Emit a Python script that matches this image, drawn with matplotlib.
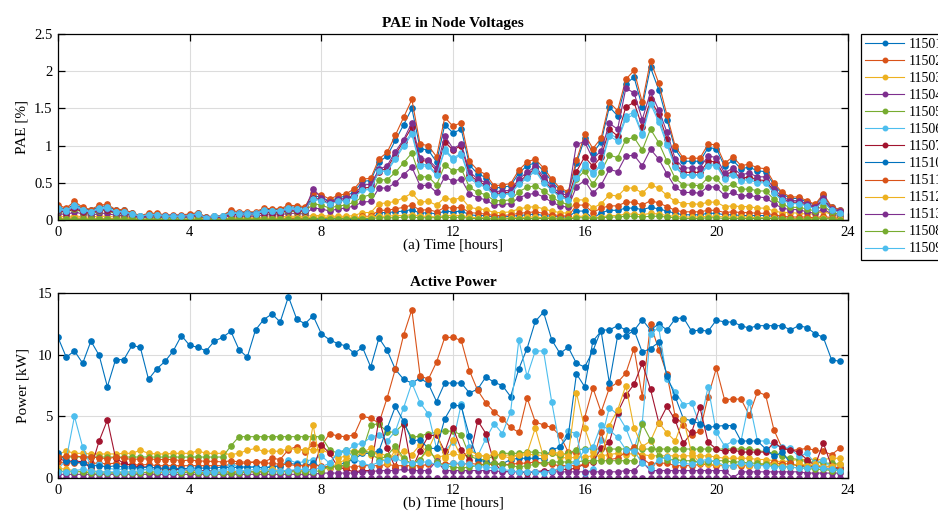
#!/usr/bin/env python3
"""
PAE in node voltages (top) and active power per node (bottom), 15-min steps.
MATLAB-like look: serif font, inward ticks on all sides, light grid.
"""

import matplotlib as mpl
mpl.use("Agg")
import matplotlib.pyplot as plt
import numpy as np

mpl.rcParams.update({
    "font.family": ["Liberation Serif", "DejaVu Serif"],
    "font.size": 10.5, "axes.titlesize": 11, "axes.labelsize": 11,
    "xtick.labelsize": 10.5, "ytick.labelsize": 10.5, "legend.fontsize": 10,
    "axes.linewidth": 0.9,
})

# MATLAB default line colours
MATLAB = ['#0072BD', '#D95319', '#EDB120', '#7E2F8E',
          '#77AC30', '#4DBEEE', '#A2142F']

NODES = ['11501', '11502', '11503', '11504', '11505', '11506', '11507',
         '11510', '11511', '11512', '11513', '11508', '11509']

# time axis: 96 quarter-hour samples
hours = np.arange(96) * 0.25

# ---- PAE [%] per node ----
pae_11501 = [0.18,0.14,0.22,0.15,0.13,0.18,0.19,0.13,
             0.13,0.09,0.05,0.08,0.08,0.06,0.06,0.06,
             0.07,0.09,0.04,0.05,0.05,0.12,0.10,0.10,
             0.10,0.14,0.14,0.14,0.18,0.17,0.16,0.32,
             0.31,0.25,0.30,0.32,0.38,0.52,0.53,0.78,
             0.86,1.07,1.28,1.50,0.96,0.94,0.78,1.28,
             1.17,1.22,0.74,0.62,0.57,0.43,0.44,0.46,
             0.63,0.73,0.77,0.66,0.52,0.40,0.36,0.76,
             1.10,0.90,1.05,1.52,1.40,1.83,1.92,1.52,
             2.05,1.75,1.35,0.95,0.79,0.79,0.79,0.97,
             0.96,0.72,0.80,0.69,0.71,0.66,0.65,0.47,
             0.35,0.29,0.29,0.24,0.20,0.33,0.17,0.13]
pae_11502 = [0.20,0.16,0.25,0.17,0.14,0.20,0.21,0.14,
             0.14,0.10,0.06,0.09,0.09,0.07,0.07,0.07,
             0.08,0.10,0.04,0.06,0.06,0.13,0.11,0.11,
             0.11,0.16,0.15,0.15,0.20,0.19,0.18,0.36,
             0.34,0.28,0.33,0.35,0.42,0.55,0.56,0.82,
             0.91,1.14,1.38,1.62,1.02,1.00,0.85,1.38,
             1.26,1.31,0.79,0.67,0.61,0.46,0.47,0.49,
             0.67,0.78,0.82,0.70,0.55,0.43,0.38,0.80,
             1.15,0.96,1.10,1.58,1.47,1.89,2.01,1.58,
             2.14,1.84,1.41,0.99,0.83,0.83,0.83,1.02,
             1.01,0.76,0.85,0.73,0.75,0.70,0.69,0.50,
             0.37,0.31,0.31,0.26,0.21,0.35,0.18,0.14]
pae_11503 = [0.05,0.04,0.06,0.04,0.04,0.05,0.05,0.04,
             0.04,0.03,0.03,0.03,0.03,0.03,0.03,0.03,
             0.03,0.03,0.02,0.02,0.02,0.03,0.03,0.03,
             0.03,0.04,0.04,0.04,0.05,0.05,0.05,0.06,
             0.06,0.05,0.05,0.05,0.06,0.10,0.10,0.22,
             0.23,0.25,0.30,0.36,0.24,0.25,0.20,0.30,
             0.27,0.30,0.17,0.15,0.14,0.10,0.10,0.11,
             0.15,0.17,0.18,0.15,0.12,0.10,0.09,0.27,
             0.27,0.16,0.22,0.34,0.32,0.43,0.43,0.36,
             0.47,0.43,0.33,0.25,0.22,0.22,0.21,0.24,
             0.24,0.18,0.19,0.18,0.18,0.16,0.16,0.12,
             0.10,0.10,0.09,0.08,0.08,0.12,0.07,0.02]
pae_11504 = [0.09,0.07,0.11,0.08,0.06,0.09,0.09,0.06,
             0.06,0.05,0.03,0.04,0.04,0.03,0.03,0.03,
             0.04,0.05,0.02,0.03,0.03,0.06,0.05,0.05,
             0.05,0.07,0.07,0.07,0.09,0.09,0.08,0.16,
             0.15,0.12,0.15,0.16,0.19,0.24,0.25,0.43,
             0.43,0.50,0.61,0.71,0.46,0.47,0.37,0.58,
             0.52,0.55,0.35,0.30,0.27,0.20,0.21,0.22,
             0.30,0.34,0.36,0.31,0.24,0.19,0.17,0.45,
             0.53,0.36,0.47,0.68,0.65,0.86,0.87,0.73,
             0.95,0.82,0.62,0.44,0.37,0.37,0.36,0.45,
             0.44,0.33,0.37,0.32,0.33,0.31,0.30,0.22,
             0.16,0.14,0.14,0.11,0.09,0.15,0.08,0.06]
pae_11505 = [0.12,0.10,0.15,0.10,0.08,0.12,0.13,0.08,
             0.08,0.06,0.04,0.05,0.05,0.04,0.04,0.04,
             0.05,0.06,0.02,0.04,0.04,0.08,0.07,0.07,
             0.07,0.10,0.09,0.09,0.12,0.11,0.11,0.22,
             0.20,0.16,0.19,0.20,0.24,0.31,0.34,0.54,
             0.54,0.64,0.77,0.90,0.58,0.58,0.47,0.74,
             0.66,0.69,0.44,0.37,0.34,0.26,0.26,0.27,
             0.38,0.44,0.46,0.39,0.31,0.24,0.21,0.55,
             0.66,0.48,0.65,0.87,0.84,1.08,1.11,0.94,
             1.22,1.04,0.79,0.56,0.47,0.47,0.46,0.57,
             0.56,0.43,0.48,0.41,0.42,0.39,0.39,0.28,
             0.21,0.17,0.17,0.15,0.12,0.20,0.10,0.08]
pae_11506 = [0.16,0.13,0.20,0.14,0.11,0.16,0.17,0.11,
             0.11,0.08,0.05,0.07,0.07,0.06,0.06,0.06,
             0.06,0.08,0.03,0.05,0.05,0.10,0.09,0.09,
             0.09,0.13,0.12,0.12,0.16,0.15,0.14,0.29,
             0.27,0.22,0.26,0.27,0.32,0.41,0.42,0.68,
             0.67,0.84,1.02,1.18,0.75,0.74,0.62,0.95,
             0.83,0.90,0.58,0.50,0.45,0.34,0.35,0.36,
             0.50,0.58,0.68,0.52,0.41,0.32,0.28,0.58,
             0.75,0.64,0.75,1.17,1.09,1.40,1.45,1.17,
             1.60,1.36,1.04,0.73,0.61,0.61,0.61,0.75,
             0.75,0.56,0.63,0.54,0.56,0.52,0.51,0.37,
             0.27,0.23,0.23,0.19,0.16,0.26,0.13,0.10]
pae_11507 = [0.13,0.10,0.16,0.11,0.09,0.13,0.14,0.09,
             0.09,0.07,0.04,0.06,0.06,0.05,0.05,0.05,
             0.05,0.07,0.03,0.04,0.04,0.08,0.07,0.07,
             0.07,0.10,0.10,0.10,0.13,0.12,0.12,0.30,
             0.27,0.22,0.26,0.27,0.33,0.43,0.44,0.65,
             0.70,0.88,1.06,1.25,0.80,0.79,0.66,1.05,
             0.94,1.00,0.61,0.52,0.47,0.36,0.36,0.38,
             0.52,0.60,0.70,0.54,0.42,0.33,0.30,0.65,
             0.85,0.72,0.85,1.22,1.13,1.52,1.58,1.25,
             1.62,1.42,1.09,0.76,0.64,0.64,0.64,0.79,
             0.78,0.59,0.66,0.56,0.58,0.54,0.53,0.39,
             0.28,0.24,0.24,0.20,0.16,0.27,0.14,0.11]
pae_11510 = [0.01,0.01,0.01,0.01,0.01,0.01,0.01,0.01,
             0.01,0.01,0.00,0.01,0.01,0.00,0.00,0.00,
             0.00,0.01,0.00,0.00,0.00,0.01,0.01,0.01,
             0.01,0.01,0.01,0.01,0.01,0.01,0.01,0.01,
             0.01,0.00,0.00,0.00,0.01,0.01,0.01,0.10,
             0.10,0.11,0.12,0.14,0.09,0.10,0.08,0.12,
             0.11,0.12,0.07,0.06,0.06,0.04,0.04,0.05,
             0.06,0.07,0.08,0.06,0.05,0.04,0.04,0.12,
             0.12,0.02,0.10,0.13,0.13,0.16,0.16,0.14,
             0.17,0.15,0.12,0.09,0.07,0.07,0.07,0.09,
             0.09,0.07,0.07,0.06,0.06,0.06,0.06,0.05,
             0.03,0.02,0.02,0.02,0.02,0.03,0.02,0.01]
pae_11511 = [0.02,0.02,0.03,0.02,0.02,0.02,0.02,0.02,
             0.02,0.01,0.01,0.01,0.01,0.01,0.01,0.01,
             0.01,0.01,0.01,0.01,0.01,0.02,0.02,0.02,
             0.02,0.02,0.02,0.02,0.02,0.02,0.02,0.02,
             0.02,0.02,0.02,0.02,0.02,0.05,0.05,0.13,
             0.13,0.15,0.17,0.20,0.13,0.14,0.11,0.17,
             0.16,0.17,0.10,0.09,0.08,0.06,0.06,0.07,
             0.09,0.10,0.11,0.09,0.07,0.06,0.05,0.20,
             0.20,0.10,0.16,0.19,0.19,0.24,0.24,0.20,
             0.26,0.23,0.18,0.13,0.11,0.11,0.11,0.13,
             0.13,0.10,0.11,0.10,0.10,0.09,0.09,0.07,
             0.05,0.04,0.04,0.04,0.03,0.05,0.03,0.02]
pae_11512 = [0.02,0.02,0.03,0.02,0.02,0.02,0.02,0.02,
             0.02,0.02,0.01,0.01,0.01,0.01,0.01,0.01,
             0.01,0.01,0.01,0.01,0.01,0.02,0.02,0.02,
             0.02,0.02,0.02,0.02,0.03,0.03,0.03,0.04,
             0.04,0.03,0.03,0.03,0.03,0.04,0.04,0.05,
             0.05,0.06,0.06,0.07,0.05,0.05,0.04,0.06,
             0.06,0.06,0.04,0.03,0.03,0.02,0.02,0.03,
             0.03,0.04,0.04,0.03,0.03,0.02,0.02,0.05,
             0.05,0.03,0.04,0.06,0.06,0.08,0.08,0.07,
             0.09,0.08,0.06,0.05,0.04,0.04,0.04,0.05,
             0.05,0.04,0.04,0.04,0.04,0.03,0.03,0.03,
             0.02,0.02,0.02,0.02,0.02,0.03,0.02,0.01]
pae_11513 = [0.14,0.11,0.18,0.12,0.10,0.14,0.15,0.10,
             0.10,0.07,0.04,0.06,0.06,0.05,0.05,0.05,
             0.06,0.07,0.03,0.04,0.04,0.09,0.08,0.08,
             0.08,0.11,0.11,0.11,0.14,0.13,0.13,0.42,
             0.30,0.24,0.28,0.29,0.34,0.47,0.48,0.68,
             0.73,0.92,1.08,1.31,0.83,0.81,0.70,1.13,
             0.96,1.02,0.65,0.55,0.50,0.38,0.39,0.40,
             0.55,0.64,0.72,0.58,0.45,0.36,0.33,1.02,
             1.05,0.82,0.93,1.30,1.22,1.77,1.71,1.35,
             1.72,1.48,1.18,0.82,0.70,0.70,0.70,0.86,
             0.84,0.63,0.70,0.61,0.63,0.58,0.58,0.42,
             0.31,0.26,0.26,0.22,0.18,0.29,0.15,0.12]
pae_11508 = [0.01,0.01,0.01,0.01,0.01,0.01,0.01,0.01,
             0.01,0.01,0.01,0.01,0.01,0.01,0.01,0.01,
             0.01,0.01,0.00,0.01,0.01,0.01,0.01,0.01,
             0.01,0.01,0.01,0.01,0.01,0.01,0.01,0.02,
             0.02,0.02,0.02,0.02,0.02,0.02,0.02,0.03,
             0.03,0.03,0.04,0.04,0.03,0.03,0.03,0.04,
             0.03,0.04,0.02,0.02,0.02,0.01,0.01,0.02,
             0.02,0.02,0.02,0.02,0.02,0.01,0.01,0.03,
             0.03,0.02,0.03,0.04,0.04,0.05,0.05,0.04,
             0.05,0.05,0.04,0.03,0.02,0.02,0.02,0.03,
             0.03,0.02,0.02,0.02,0.02,0.02,0.02,0.02,
             0.01,0.01,0.01,0.01,0.01,0.02,0.01,0.00]
pae_11509 = [0.15,0.12,0.19,0.13,0.11,0.15,0.16,0.11,
             0.11,0.08,0.05,0.07,0.07,0.05,0.05,0.05,
             0.06,0.08,0.03,0.05,0.05,0.10,0.08,0.08,
             0.08,0.12,0.12,0.12,0.15,0.15,0.14,0.28,
             0.26,0.21,0.25,0.26,0.31,0.40,0.41,0.66,
             0.65,0.82,0.99,1.15,0.73,0.72,0.60,0.93,
             0.81,0.88,0.56,0.48,0.44,0.33,0.34,0.35,
             0.48,0.56,0.66,0.50,0.40,0.31,0.27,0.56,
             0.73,0.62,0.73,1.13,1.06,1.36,1.42,1.14,
             1.56,1.32,1.01,0.71,0.60,0.60,0.60,0.73,
             0.73,0.55,0.61,0.53,0.54,0.50,0.50,0.36,
             0.27,0.22,0.22,0.19,0.15,0.25,0.13,0.10]

# ---- active power [kW] per node ----
pw_11501 = [11.4,9.8,10.3,9.3,11.1,9.95,7.4,9.6,
            9.6,10.75,10.6,8.0,8.85,9.45,10.3,11.55,
            10.75,10.6,10.3,11.1,11.4,11.9,10.4,9.8,
            12.0,12.85,13.3,12.65,14.7,12.9,12.5,13.15,
            11.7,11.2,10.9,10.7,10.1,10.6,9.0,11.35,
            10.35,8.8,8.0,7.7,8.1,7.65,6.2,7.7,
            7.7,7.7,6.9,7.2,8.2,7.75,7.5,6.6,
            8.85,10.5,12.7,13.45,11.2,10.1,10.6,9.3,
            9.0,10.3,12.0,12.0,12.35,12.0,11.95,12.84,
            12.0,12.5,12.0,12.9,13.0,11.9,12.0,11.9,
            12.8,12.65,12.65,12.35,12.15,12.35,12.35,12.35,
            12.35,12.0,12.35,12.2,11.7,11.4,9.6,9.45]
pw_11502 = [1.3,1.25,1.2,1.25,1.2,1.2,1.15,1.2,
            1.1,1.1,1.05,1.1,1.0,1.0,1.0,1.0,
            1.0,1.0,1.0,1.0,1.0,1.1,1.2,1.2,
            1.3,1.3,1.6,1.5,2.3,2.55,2.1,2.75,
            2.6,3.6,3.4,3.35,3.5,5.0,4.85,4.45,
            6.5,8.85,11.6,13.65,8.3,8.0,9.4,11.4,
            11.4,11.15,8.7,7.1,6.1,5.35,4.8,4.1,
            3.7,6.5,4.55,4.3,4.1,3.45,2.1,2.0,
            4.9,7.3,5.35,7.3,7.75,8.5,10.5,6.6,
            12.5,10.4,8.4,5.0,4.3,3.5,3.8,6.6,
            8.9,6.35,6.4,6.4,5.1,7.0,6.7,3.9,
            2.4,2.25,2.3,2.4,2.25,2.15,1.9,2.4]
pw_11503 = [1.9,2.2,2.0,2.0,1.95,1.95,1.95,1.95,
            2.0,2.0,2.25,2.0,1.95,1.95,2.0,2.0,
            2.0,2.2,2.0,2.0,2.0,1.9,2.0,2.25,
            2.4,2.15,2.2,2.15,2.4,2.3,2.3,2.3,
            2.3,2.0,1.6,1.8,2.2,2.2,1.9,2.0,
            1.8,1.7,2.2,1.9,2.7,2.0,1.7,1.8,
            2.0,1.8,1.8,1.8,1.8,1.8,1.8,1.9,
            1.8,1.9,1.9,1.8,2.0,1.7,1.6,1.7,
            1.7,1.8,1.8,1.9,2.0,1.9,2.0,1.9,
            1.8,1.8,1.8,1.8,1.8,1.8,1.8,1.8,
            1.7,1.6,1.6,1.6,1.6,1.5,1.5,1.4,
            1.3,1.4,1.5,1.5,1.5,1.5,1.6,1.6]
pw_11504 = [0.0,0.0,0.0,0.0,0.0,0.0,0.0,0.0,
            0.0,0.0,0.0,0.0,0.0,0.0,0.0,0.0,
            0.0,0.0,0.0,0.0,0.0,0.0,0.0,0.0,
            0.0,0.0,0.0,0.0,0.0,0.0,0.0,0.0,
            0.0,0.0,0.0,0.0,0.0,0.0,0.0,0.0,
            0.0,0.0,0.0,0.0,0.0,0.0,0.0,0.0,
            0.0,0.0,0.0,0.0,0.0,0.0,0.0,0.0,
            0.0,0.0,0.0,0.0,0.0,0.0,0.0,0.0,
            0.0,0.0,0.0,0.0,0.0,0.0,0.0,0.0,
            0.0,0.0,0.0,0.0,0.0,0.0,0.0,0.0,
            0.0,0.0,0.0,0.0,0.0,0.0,0.0,0.0,
            0.0,0.0,0.0,0.0,0.0,0.0,0.0,0.0]
pw_11505 = [1.7,1.7,1.7,1.7,1.7,1.7,1.7,1.7,
            1.7,1.7,1.7,1.7,1.7,1.7,1.7,1.7,
            1.7,1.7,1.7,1.7,1.7,2.6,3.35,3.35,
            3.35,3.35,3.35,3.35,3.35,3.35,3.35,3.35,
            3.35,2.3,2.0,2.3,2.1,2.2,4.3,4.4,
            3.7,3.75,4.4,3.3,3.4,3.6,3.7,3.8,
            3.8,3.5,1.8,1.5,1.5,1.8,2.0,2.0,
            2.0,2.1,2.1,2.0,2.0,1.9,2.0,2.3,
            2.35,2.35,2.35,2.35,2.35,2.35,2.35,2.35,
            2.35,2.35,2.35,2.35,2.35,2.35,2.35,2.35,
            2.35,2.35,2.35,2.35,2.35,2.2,2.15,2.0,
            1.8,1.6,1.5,1.3,1.3,1.2,1.2,1.1]
pw_11506 = [0.7,1.5,5.0,2.5,0.95,1.1,0.8,0.7,
            0.7,0.8,0.7,0.7,0.7,0.6,0.6,0.7,
            0.8,0.6,0.6,0.6,0.7,1.1,0.9,0.8,
            0.9,0.8,1.0,0.9,1.5,1.2,1.35,1.5,
            1.8,1.2,2.0,2.1,2.7,2.8,3.3,3.5,
            3.0,3.8,5.7,7.7,6.1,5.2,2.4,2.2,
            2.9,6.0,2.5,1.8,3.2,4.4,3.6,5.35,
            11.2,8.25,10.3,10.3,6.15,2.5,3.8,3.6,
            0.4,0.7,3.05,5.7,5.15,4.05,2.35,4.5,
            11.7,12.2,8.0,7.0,5.95,6.1,4.3,7.4,
            3.7,2.6,3.0,3.0,6.2,3.0,3.0,2.65,
            2.5,2.4,1.75,2.0,1.2,1.5,0.8,0.6]
pw_11507 = [1.6,1.35,1.4,1.3,0.8,3.0,4.7,1.6,
            1.2,1.0,0.9,0.9,0.8,0.7,0.7,0.7,
            0.6,0.6,0.6,0.5,0.5,0.5,0.5,0.5,
            0.5,0.5,0.6,0.6,0.6,0.6,0.6,0.7,
            2.7,2.0,0.9,0.7,0.5,0.6,0.6,4.8,
            2.4,0.8,4.4,0.7,2.2,3.4,3.5,2.15,
            4.05,2.3,1.5,4.65,3.6,1.2,0.55,0.55,
            0.5,0.4,0.5,0.6,0.6,0.7,0.7,0.8,
            1.15,1.3,2.4,2.9,5.3,6.7,7.6,9.3,
            7.2,4.5,5.8,4.7,2.8,3.7,5.75,2.9,
            2.35,2.15,2.3,2.1,2.1,2.1,2.1,2.9,
            2.4,2.3,2.1,1.5,1.0,2.85,0.95,0.8]
pw_11510 = [2.0,1.35,1.3,1.2,1.0,1.0,0.9,1.0,
            0.9,0.9,0.8,0.9,0.8,0.8,0.8,0.75,
            0.8,0.8,0.8,0.8,0.9,0.8,0.9,0.9,
            0.9,0.8,0.9,1.0,1.2,1.1,1.0,1.2,
            0.9,0.8,1.0,1.3,1.5,2.0,2.0,2.2,
            4.05,5.8,4.6,3.0,3.1,2.4,2.4,4.8,
            5.95,5.8,3.4,1.5,1.3,1.15,1.15,1.5,
            1.6,1.6,1.6,1.55,2.3,2.5,3.4,8.45,
            7.4,11.1,11.9,7.7,11.5,11.5,12.0,10.2,
            10.5,11.0,8.3,6.6,4.8,4.65,4.4,4.1,
            4.2,4.25,4.25,3.0,3.0,3.0,2.35,1.75,
            2.1,1.2,0.95,0.95,0.9,0.8,0.7,0.8]
pw_11511 = [1.7,1.75,1.8,1.7,1.7,1.65,1.55,1.7,
            1.6,1.5,1.55,1.55,1.5,1.5,1.5,1.4,
            1.45,1.4,1.35,1.35,1.3,1.4,1.3,1.3,
            1.3,1.2,1.2,1.1,1.1,1.0,1.0,1.0,
            1.0,0.9,0.9,0.9,0.9,1.0,1.0,1.0,
            1.1,1.0,1.0,1.0,1.0,1.1,1.2,1.1,
            1.2,1.1,1.2,1.1,1.1,1.1,1.1,1.1,
            1.2,1.2,1.3,1.2,1.1,1.0,1.0,1.0,
            1.1,1.4,3.7,1.5,1.6,2.1,2.5,1.6,
            1.1,1.2,1.2,1.0,1.0,1.0,1.1,1.1,
            1.0,1.0,1.0,1.0,1.0,1.0,1.1,1.3,
            1.1,1.2,1.0,1.0,1.0,0.9,0.9,0.8]
pw_11512 = [0.8,0.7,0.6,0.5,0.6,0.5,0.5,0.4,
            0.5,0.5,0.5,0.4,0.4,0.5,0.4,0.5,
            0.5,0.5,0.4,0.5,0.5,0.5,0.5,0.6,
            0.5,0.6,0.7,0.6,0.5,0.6,0.6,4.3,
            0.7,0.8,1.2,1.5,1.7,2.1,2.4,1.8,
            1.2,2.3,1.5,1.2,1.5,2.3,3.8,1.6,
            3.1,1.7,2.2,1.9,1.7,2.0,1.8,1.6,
            1.9,2.0,4.05,1.7,2.1,2.0,1.8,6.9,
            4.05,2.1,1.6,4.25,5.5,7.5,4.05,2.55,
            3.0,4.5,3.65,3.0,4.8,2.0,1.2,1.1,
            1.1,1.0,1.0,1.1,1.0,1.0,1.2,1.1,
            1.0,0.9,1.2,1.0,1.1,0.9,1.0,1.1]
pw_11513 = [0.3,0.3,0.3,0.3,0.3,0.3,0.3,0.3,
            0.3,0.3,0.3,0.3,0.3,0.3,0.3,0.3,
            0.3,0.3,0.3,0.3,0.3,0.3,0.3,0.3,
            0.3,0.3,0.3,0.3,0.3,0.3,0.3,0.3,
            0.4,0.4,0.4,0.4,0.4,0.5,0.5,0.6,
            0.6,0.6,0.7,0.6,0.6,0.6,1.4,0.6,
            0.6,0.6,0.6,0.6,0.6,0.6,0.5,0.5,
            0.5,0.5,0.5,0.5,0.5,0.5,0.5,0.5,
            0.5,0.5,0.5,0.5,0.5,0.6,0.6,1.3,
            0.6,0.6,0.6,0.6,0.6,0.6,0.6,0.6,
            0.6,0.6,0.0,0.5,0.5,0.5,0.5,0.5,
            0.5,0.5,0.5,0.4,0.4,0.4,0.4,0.4]
pw_11508 = [0.6,0.5,0.5,0.5,0.4,0.4,0.4,0.4,
            0.4,0.4,0.4,0.5,0.5,0.5,0.5,0.4,
            0.5,0.4,0.4,0.4,0.4,0.4,0.4,0.5,
            0.5,0.5,0.5,0.5,0.5,0.5,0.5,0.5,
            0.6,1.0,0.9,1.1,1.8,2.3,2.0,1.5,
            1.8,2.6,1.6,1.1,1.5,2.5,1.3,1.0,
            0.9,0.8,0.9,1.0,1.1,1.2,1.1,1.0,
            0.9,1.0,1.1,1.2,1.3,1.3,1.3,1.3,
            1.4,1.4,1.4,1.4,1.4,1.4,1.4,4.4,
            3.1,1.8,1.5,1.5,1.4,1.4,1.3,1.3,
            1.4,1.4,1.3,1.3,1.2,1.2,1.1,1.0,
            0.9,0.9,0.8,0.8,0.7,0.7,0.6,0.6]
pw_11509 = [0.5,0.5,0.6,0.7,0.6,0.5,0.5,0.5,
            0.5,0.5,0.6,0.7,0.6,0.5,0.5,0.6,
            0.7,0.6,0.5,0.5,0.6,0.7,0.6,0.6,
            0.7,0.7,0.6,0.6,0.6,0.7,0.7,0.6,
            0.9,1.2,2.1,2.3,1.6,1.2,1.0,1.3,
            1.5,1.6,1.3,1.2,1.3,1.3,1.1,1.0,
            1.2,1.2,1.1,0.9,0.9,0.8,0.7,0.6,
            0.5,0.5,0.5,0.4,0.6,0.8,1.0,1.3,
            2.3,2.5,4.3,3.9,3.3,2.3,2.2,1.2,
            0.8,1.5,1.7,1.3,1.2,1.1,1.4,1.5,
            1.3,1.0,1.0,1.2,1.1,1.0,1.0,0.9,
            0.9,0.9,0.8,0.8,0.9,0.8,0.7,0.6]

PAE = [pae_11501, pae_11502, pae_11503, pae_11504, pae_11505, pae_11506,
       pae_11507, pae_11510, pae_11511, pae_11512, pae_11513, pae_11508,
       pae_11509]
POWER = [pw_11501, pw_11502, pw_11503, pw_11504, pw_11505, pw_11506,
         pw_11507, pw_11510, pw_11511, pw_11512, pw_11513, pw_11508,
         pw_11509]


def style_axes(ax):
    ax.set_xlim(0, 24)
    ax.set_xticks(np.arange(0, 25, 4))
    ax.tick_params(direction='in', top=True, right=True, length=5,
                   width=0.9, pad=4)
    ax.grid(True, color='#dcdcdc', linewidth=0.8)
    ax.set_axisbelow(True)


W, H = 938, 525
fig = plt.figure(figsize=(W / 100, H / 100), dpi=100)
ax1 = fig.add_axes([58 / W, 1 - 220 / H, 790 / W, 186 / H])
ax2 = fig.add_axes([58 / W, 1 - 478 / H, 790 / W, 185 / H])

lines = []
for i, (node, y) in enumerate(zip(NODES, PAE)):
    ln, = ax1.plot(hours, y, '-o', color=MATLAB[i % 7], lw=0.8, ms=3.8,
                   label=node)
    lines.append(ln)
for i, y in enumerate(POWER):
    ax2.plot(hours, y, '-o', color=MATLAB[i % 7], lw=0.8, ms=3.8)

style_axes(ax1)
ax1.set_ylim(0, 2.5)
ax1.set_yticks([0, 0.5, 1, 1.5, 2, 2.5])
ax1.set_yticklabels(['0', '0.5', '1', '1.5', '2', '2.5'])
ax1.set_title('PAE in Node Voltages', fontweight='bold', pad=5)
ax1.set_xlabel('(a) Time [hours]', labelpad=0)
ax1.set_ylabel('PAE [%]', labelpad=4)

style_axes(ax2)
ax2.set_ylim(0, 15)
ax2.set_yticks([0, 5, 10, 15])
ax2.set_title('Active Power', fontweight='bold', pad=5)
ax2.set_xlabel('(b) Time [hours]', labelpad=0)
ax2.set_ylabel('Power [kW]', labelpad=6)

# legend sits right of the top panel and runs past the figure edge,
# as in the source figure
leg = fig.legend(handles=lines, loc='upper left',
                 bbox_to_anchor=(861 / W, 1 - 34 / H), borderaxespad=0,
                 handlelength=2.8, handletextpad=0.36, labelspacing=0.29,
                 borderpad=0.3, fancybox=False, framealpha=1,
                 edgecolor='black', markerscale=0.85)
leg.get_frame().set_linewidth(0.9)

fig.savefig('out.png', dpi=100)
